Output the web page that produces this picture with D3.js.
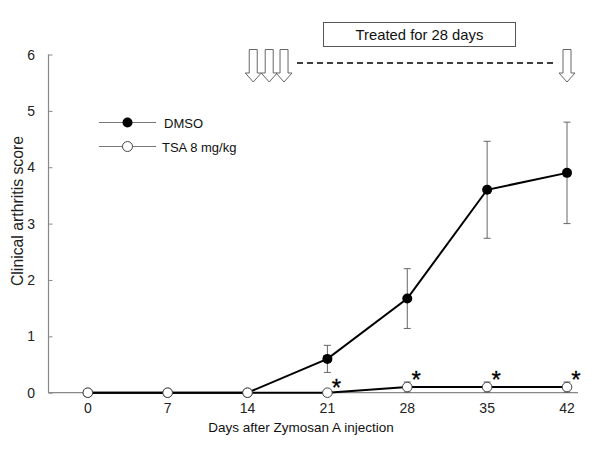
<!DOCTYPE html>
<html><head><meta charset="utf-8">
<script src="https://cdn.jsdelivr.net/npm/d3@7"></script>
<style>body{margin:0;background:#fff}svg{display:block;font-family:"Liberation Sans",Arial,sans-serif}</style>
</head><body><div id="chart"></div>
<script>
const days = [0, 7, 14, 21, 28, 35, 42];
const dmso = [0, 0, 0, 0.6, 1.67, 3.6, 3.9];
const dmsoErr = [0, 0, 0, 0.24, 0.53, 0.86, 0.9];
const tsa = [0, 0, 0, 0, 0.1, 0.1, 0.1];
const tsaErr = [0, 0, 0, 0, 0.09, 0.09, 0.09];
const sigDays = [21, 28, 35, 42];
const yTicks = [0, 1, 2, 3, 4, 5, 6];
const arrowDays = [14.5, 15.9, 17.2, 42];
const seriesNames = ["DMSO", "TSA 8 mg/kg"];

const W = 600, H = 450;
const svg = d3.select("#chart").append("svg").attr("width", W).attr("height", H);
const x = d3.scaleLinear().domain([0, 42]).range([87.8, 567]);
const y = d3.scaleLinear().domain([0, 6]).range([392.7, 54.5]);

// axes
svg.append("line").attr("x1", 48.5).attr("x2", 48.5).attr("y1", y(6)).attr("y2", y(0)).attr("stroke", "#888").attr("stroke-width", 1.2);
svg.append("line").attr("x1", 48.5).attr("x2", 578).attr("y1", y(0)).attr("y2", y(0)).attr("stroke", "#888").attr("stroke-width", 1.2);
const yAxis = svg.append("g").attr("transform", "translate(48.5,0)")
  .call(d3.axisRight(y).tickValues(yTicks).tickSize(4).tickFormat(""));
yAxis.select(".domain").remove();
yAxis.selectAll("line").attr("stroke", "#888");
svg.selectAll(".ylab").data(yTicks).enter().append("text")
  .attr("x", 35).attr("y", d => y(d) + 5).attr("text-anchor", "end")
  .attr("font-size", 14).attr("fill", "#222").text(d => d);
svg.selectAll(".xlab").data(days).enter().append("text")
  .attr("x", d => x(d)).attr("y", 413).attr("text-anchor", "middle")
  .attr("font-size", 14).attr("fill", "#222").text(d => d);
svg.append("text").attr("x", 301).attr("y", 432).attr("text-anchor", "middle")
  .attr("font-size", 13.5).attr("fill", "#111").text("Days after Zymosan A injection");
svg.append("text").attr("transform", "translate(23,211) rotate(-90)").attr("text-anchor", "middle")
  .attr("font-size", 15.8).attr("fill", "#222").text("Clinical arthritis score");

// error bars
function errBars(vals, errs) {
  const g = svg.append("g").attr("stroke", "#666").attr("stroke-width", 1);
  days.forEach((d, i) => {
    if (!errs[i]) return;
    const xx = x(d), y1 = y(vals[i] + errs[i]), y2 = y(vals[i] - errs[i]);
    g.append("line").attr("x1", xx).attr("x2", xx).attr("y1", y1).attr("y2", y2);
    g.append("line").attr("x1", xx - 3.5).attr("x2", xx + 3.5).attr("y1", y1).attr("y2", y1);
    g.append("line").attr("x1", xx - 3.5).attr("x2", xx + 3.5).attr("y1", y2).attr("y2", y2);
  });
}
errBars(dmso, dmsoErr);
errBars(tsa, tsaErr);

const line = d3.line().x((d, i) => x(days[i])).y(d => y(d));
svg.append("path").datum(dmso).attr("d", line).attr("fill", "none").attr("stroke", "#000").attr("stroke-width", 2);
svg.append("path").datum(tsa).attr("d", line).attr("fill", "none").attr("stroke", "#000").attr("stroke-width", 2);
svg.selectAll(".dm").data(dmso).enter().append("circle")
  .attr("cx", (d, i) => x(days[i])).attr("cy", d => y(d)).attr("r", 5).attr("fill", "#000");
svg.selectAll(".ts").data(tsa).enter().append("circle")
  .attr("cx", (d, i) => x(days[i])).attr("cy", d => y(d)).attr("r", 4.8).attr("fill", "#fff").attr("stroke", "#444").attr("stroke-width", 1);

// significance asterisks
svg.selectAll(".sig").data(sigDays).enter().append("text")
  .attr("x", d => x(d) + 9).attr("y", d => y(tsa[days.indexOf(d)]) + (d === 21 ? 3 : 0.5))
  .attr("text-anchor", "middle").attr("font-size", 24).attr("fill", "#000")
  .attr("stroke", "#000").attr("stroke-width", 0.3).text("*");

// legend
const leg = svg.append("g");
[0, 1].forEach(i => {
  const ly = 122.5 + i * 24;
  leg.append("line").attr("x1", 99).attr("x2", 156).attr("y1", ly).attr("y2", ly).attr("stroke", "#777").attr("stroke-width", 1);
  leg.append("circle").attr("cx", 127.5).attr("cy", ly).attr("r", 5)
    .attr("fill", i === 0 ? "#000" : "#fff").attr("stroke", i === 0 ? "none" : "#444");
  leg.append("text").attr("x", 164 - i * 2).attr("y", ly + 5).attr("font-size", 13).attr("fill", "#111").text(seriesNames[i]);
});

// treatment annotation
svg.append("rect").attr("x", 323.5).attr("y", 22.5).attr("width", 192).attr("height", 24)
  .attr("fill", "#fff").attr("stroke", "#555").attr("stroke-width", 1);
svg.append("text").attr("x", 419.5).attr("y", 40).attr("text-anchor", "middle").attr("font-size", 14.8).attr("fill", "#111").text("Treated for 28 days");
svg.append("line").attr("x1", 297).attr("x2", 556).attr("y1", 63).attr("y2", 63)
  .attr("stroke", "#000").attr("stroke-width", 1.5).attr("stroke-dasharray", "6,4");
arrowDays.forEach(d => {
  const cx = x(d);
  const p = [[cx - 4, 49.5], [cx + 4, 49.5], [cx + 4, 73], [cx + 8, 73], [cx, 82], [cx - 8, 73], [cx - 4, 73]];
  svg.append("path").attr("d", "M" + p.join("L") + "Z").attr("fill", "#fff").attr("stroke", "#666").attr("stroke-width", 1);
});
</script></body></html>
